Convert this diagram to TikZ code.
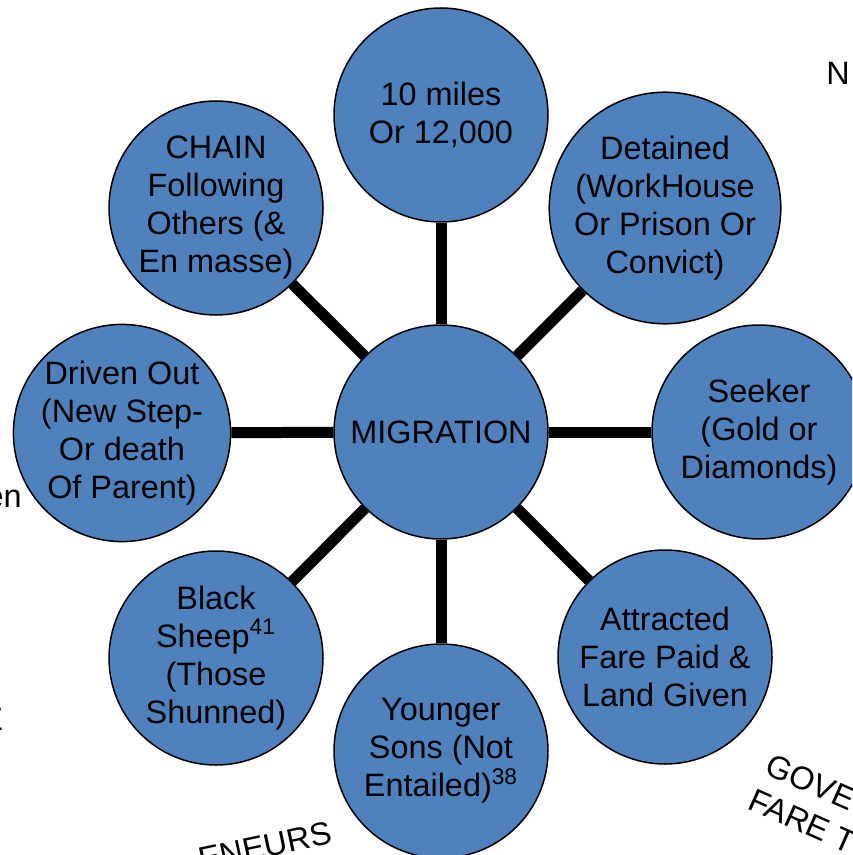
\documentclass[tikz,border=0pt]{standalone}
\usepackage{fontspec}
\setmainfont{Liberation Sans}
\definecolor{bubbleblue}{RGB}{79,129,189}
\tikzset{
  bubble/.style={circle, draw=black, line width=0.75pt, fill=bubbleblue,
    minimum size=107pt, inner sep=0pt, align=center,
    font=\fontsize{16.2}{19}\selectfont},
  spoke/.style={line width=5.5pt},
  edgetext/.style={inner sep=0pt, font=\fontsize{16.2}{19}\selectfont}
}
\begin{document}
\begin{tikzpicture}[x=0.5pt,y=-0.5pt]
    \useasboundingbox (0,0) rectangle (852,855);
    \clip (0,0) rectangle (852,855);

    % Cut-off text around the edges
    \node[edgetext, anchor=base west] (ntxt) at (826,85) {N};
    \node[edgetext, anchor=base east] (entxt) at (22,507) {en};
    \node[edgetext, anchor=base east] (ztxt) at (3,730) {Z};
    \node[edgetext, anchor=base west, rotate=-24] (govtxt) at (763,773) {GOVE};
    \node[edgetext, anchor=base west, rotate=-24] (faretxt) at (746,808) {FARE T};
    \node[edgetext, rotate=12] (enturs) at (265,846) {ENEURS};

    % Centre
    \node[bubble] (mig) at (441,432) {MIGRATION};

    % Outer bubbles
    \node[bubble] (miles) at (441,115) {10 miles\\Or 12,000};
    \node[bubble] (detained) at (665,208) {Detained\\(WorkHouse\\Or Prison Or\\Convict)};
    \node[bubble] (seeker) at (759,432) {Seeker\\(Gold or\\Diamonds)};
    \node[bubble] (attracted) at (665,657) {Attracted\\Fare Paid \&\\Land Given};
    \node[bubble] (younger) at (441,751) {Younger\\Sons (Not\\Entailed)\textsuperscript{38}};
    \node[bubble] (sheep) at (216,658) {Black\\Sheep\textsuperscript{41}\\(Those\\Shunned)};
    \node[bubble] (driven) at (122,433) {Driven Out\\(New Step-\\Or death\\Of Parent)};
    \node[bubble] (chain) at (216,208) {CHAIN\\Following\\Others (\&\\En masse)};

    % Spokes
    \foreach \n in {miles,detained,seeker,attracted,younger,sheep,driven,chain}
        \draw[spoke] (mig) -- (\n);

\end{tikzpicture}
\end{document}
